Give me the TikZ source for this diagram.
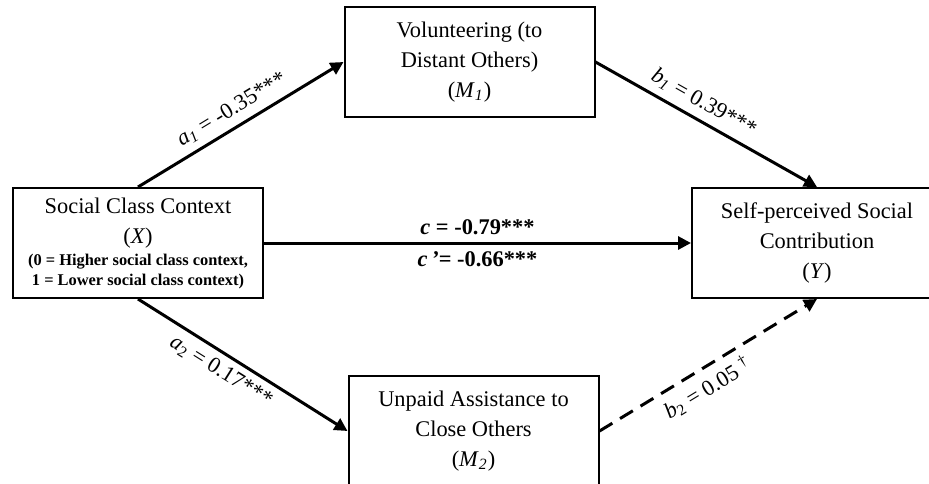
\documentclass[tikz,border=0pt]{standalone}
\usepackage{fontspec}
\setmainfont{Liberation Serif}
\usetikzlibrary{arrows.meta}

\newcommand{\codebf}{\fontsize{8.2}{10}\selectfont\bfseries}

\begin{document}
\begin{tikzpicture}[x=0.5pt,y=-0.5pt,
    var/.style={draw,line width=1pt,minimum width=125pt,minimum height=55pt,
        align=center,font=\fontsize{11.2}{15}\selectfont},
    path/.style={line width=1.5pt,-{Triangle[length=6.5pt,width=6.5pt]}},
    coef/.style={sloped,font=\fontsize{11.2}{13}\selectfont},
    total/.style={font=\fontsize{11.2}{13}\selectfont\bfseries}]
    \useasboundingbox (0,0) rectangle (929,483);
    \clip (0,0) rectangle (929,483);

    \node[var] (X) at (138,243) {Social Class Context\\(\textit{X})\\[-4pt]
        {\codebf (0 = Higher social class context,}\\[-5pt]
        {\codebf 1 = Lower social class context)}};
    \node[var] (M1) at (469.5,62) {Volunteering (to\\Distant Others)\\(\textit{M}\textsubscript{\textit{1}})};
    \node[var] (M2) at (473.5,431) {Unpaid Assistance to\\Close Others\\(\textit{M}\textsubscript{\textit{2}})};
    \node[var] (Y) at (817,243) {Self-perceived Social\\Contribution\\(\textit{Y})};

    \draw[path] (X.north) -- node[coef,above] {\textit{a}\textsubscript{\textit{1}} = -0.35***} (M1.west);
    \draw[path] (M1.east) -- node[coef,above,pos=0.45] {\textit{b}\textsubscript{\textit{1}} = 0.39***} (Y.north);
    \draw[path] (X.east) -- node[total,above] {\textit{c} = -0.79***}
        node[total,below] {\textit{c\,'}= -0.66***} (Y.west);
    \draw[path] (X.south) -- node[coef,below,pos=0.44] {\textit{a}\textsubscript{2} = 0.17***} (M2.west);
    \draw[path,dash pattern=on 7.5pt off 4.5pt] (M2.east) -- node[coef,below,pos=0.45] {\textit{b}\textsubscript{2} = 0.05\ \textsuperscript{†}} (Y.south);
\end{tikzpicture}
\end{document}
